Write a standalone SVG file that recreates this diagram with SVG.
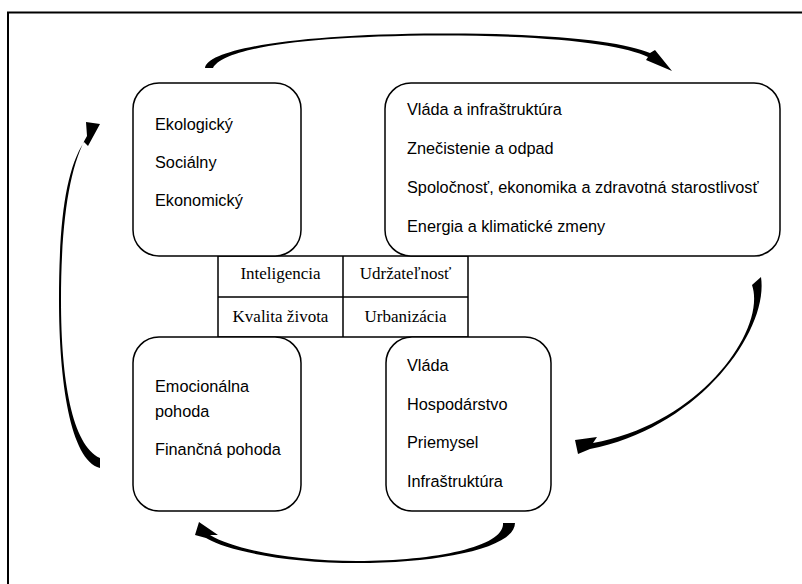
<svg xmlns="http://www.w3.org/2000/svg" width="802" height="584" viewBox="0 0 802 584">
<style>
.box{fill:#fff;stroke:#000;stroke-width:1.5}
.grid{fill:none;stroke:#000;stroke-width:1.5}
.t{font-family:"Liberation Sans",Arial,sans-serif;font-size:16.3px;fill:#000}
.s{font-family:"Liberation Serif","Times New Roman",serif;font-size:17px;fill:#000;text-anchor:middle}
.arr{fill:#000;stroke:none}
</style>
<rect width="802" height="584" fill="#fff"/>
<path d="M8,584 L8,12.5 L802,12.5" fill="none" stroke="#000" stroke-width="2"/>
<g id="table">
<path class="grid" d="M218,256 H468 M218,297 H468 M218,337 H468 M218,256 V337 M343,256 V337 M468,256 V337"/>
<text class="s" x="280.5" y="279">Inteligencia</text>
<text class="s" x="405.5" y="279">Udržateľnosť</text>
<text class="s" x="280.5" y="322">Kvalita života</text>
<text class="s" x="405.5" y="322">Urbanizácia</text>
</g>
<g id="node-tl">
<rect class="box" x="133" y="83" width="168" height="173" rx="26"/>
<text class="t" x="155" y="130">Ekologický</text>
<text class="t" x="155" y="168">Sociálny</text>
<text class="t" x="155" y="206">Ekonomický</text>
</g>
<g id="node-tr">
<rect class="box" x="385" y="83" width="395" height="173" rx="26"/>
<text class="t" x="407" y="115">Vláda a infraštruktúra</text>
<text class="t" x="407" y="154">Znečistenie a odpad</text>
<text class="t" x="407" y="193">Spoločnosť, ekonomika a zdravotná starostlivosť</text>
<text class="t" x="407" y="232">Energia a klimatické zmeny</text>
</g>
<g id="node-bl">
<rect class="box" x="133" y="337" width="168" height="174" rx="26"/>
<text class="t" x="155" y="392">Emocionálna</text>
<text class="t" x="155" y="417">pohoda</text>
<text class="t" x="155" y="455">Finančná pohoda</text>
</g>
<g id="node-br">
<rect class="box" x="386" y="337" width="165" height="174" rx="26"/>
<text class="t" x="407" y="371">Vláda</text>
<text class="t" x="407" y="410">Hospodárstvo</text>
<text class="t" x="407" y="448">Priemysel</text>
<text class="t" x="407" y="487">Infraštruktúra</text>
</g>
<g id="connectors">
<path class="arr" d="M205,68 C207,50 290,34 440,33.5 C555,33 625,42 650,53 L655,50 L672,71 L646,60 L648,57 C624,45 555,35.5 440,35.5 C292,36 222,50 213,68 Z"/>
<path class="arr" d="M761,277 C769,331 699,428 590,449 L578,454 L575,440 L597,437 L593,443 C701,424 767,329 752,285 Z"/>
<path class="arr" d="M503,523 L515,523 C515,548 440,563 357,563 C290,563 230,552 206,538 L195,535 L199,522 L218,535 L210,535 C233,549 290,561 357,561 C438,561 505,546 503,523 Z"/>
<path class="arr" d="M100,458 L100,468 C70,460 59,380 59,300 C59,220 66,170 84,142 L88,146 L100,124 L86,122 L87,136 C70,165 61,220 61,300 C61,380 72,445 100,458 Z"/>
</g>
</svg>
